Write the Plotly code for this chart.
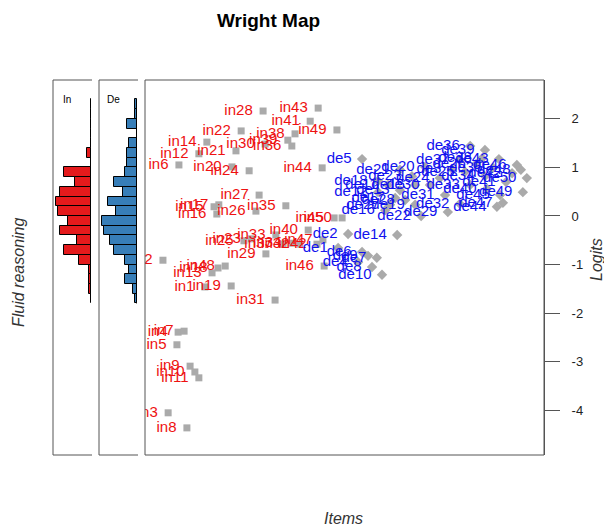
import plotly.graph_objects as go

# ---------------- data ----------------
# "In" items: name, horizontal slot (0-100), difficulty (logits)
in_names = ["in28", "in43", "in41", "in49", "in38", "in39", "in22", "in14", "in12", "in21",
            "in6", "in20", "in24", "in30", "in36", "in44", "in27", "in17", "in15", "in16",
            "in26", "in35", "in45", "in50", "in25", "in23", "in33", "in40", "in37", "in34",
            "in32", "in42", "in47", "in29", "in2", "in48", "in18", "in13", "in1", "in19",
            "in31", "in46", "in4", "in7", "in5", "in9", "in10", "in11", "in3", "in8"]
in_slot = [29.6, 43.4, 41.4, 48.1, 37.6, 35.8, 24.1, 15.5, 13.5, 22.8,
           8.5, 21.8, 26.1, 30.1, 36.8, 44.4, 28.6, 18.5, 17.3, 18.0,
           27.8, 35.3, 47.4, 49.4, 24.8, 26.6, 32.8, 40.9, 34.6, 36.8,
           38.8, 43.1, 44.6, 30.3, 4.5, 20.1, 18.3, 16.8, 15.0, 21.6,
           32.6, 44.9, 8.3, 9.8, 8.0, 11.3, 12.5, 13.5, 5.8, 10.5]
in_logit = [2.16, 2.22, 1.95, 1.77, 1.69, 1.56, 1.75, 1.52, 1.28, 1.34,
            1.05, 1.01, 0.93, 1.48, 1.44, 0.99, 0.43, 0.23, 0.19, 0.04,
            0.10, 0.21, -0.04, -0.04, -0.51, -0.47, -0.39, -0.29, -0.58, -0.56,
            -0.58, -0.58, -0.49, -0.78, -0.91, -1.03, -1.07, -1.17, -1.46, -1.44,
            -1.73, -1.03, -2.39, -2.37, -2.65, -3.09, -3.21, -3.33, -4.05, -4.36]

# "De" items
de_names = ["de5", "de36", "de39", "de43", "de46", "de48", "de50", "de49", "de47", "de44",
            "de40", "de22", "de29", "de32", "de12", "de18", "de14", "de2", "de1", "de6",
            "de9", "de7", "de4", "de8", "de10", "de3", "de11", "de13", "de15", "de16",
            "de17", "de19", "de20", "de21", "de23", "de24", "de25", "de26", "de27", "de28",
            "de30", "de31", "de33", "de34", "de35", "de37", "de38", "de41", "de42", "de45"]
de_slot = [54.4, 81.5, 85.2, 88.7, 93.2, 94.2, 95.7, 94.7, 89.7, 88.2,
           85.7, 69.2, 75.9, 78.9, 58.4, 58.4, 63.2, 50.9, 48.4, 54.4,
           55.9, 58.1, 53.4, 56.9, 59.4, 76.9, 60.9, 63.9, 67.7, 60.2,
           62.7, 67.7, 70.2, 63.9, 66.9, 73.9, 80.2, 83.0, 61.4, 65.2,
           71.4, 75.2, 81.5, 85.2, 87.2, 78.9, 84.5, 90.5, 92.0, 89.0]
de_logit = [1.17, 1.44, 1.36, 1.17, 1.05, 0.95, 0.78, 0.49, 0.27, 0.19,
            0.56, 0.00, 0.08, 0.25, 0.49, 0.72, -0.39, -0.37, -0.66, -0.74,
            -0.82, -0.86, -0.95, -1.05, -1.21, 0.97, 0.64, 0.53, 0.64, 0.12,
            0.37, 0.23, 1.01, 0.95, 0.82, 0.78, 0.91, 1.07, 0.23, 0.33,
            0.64, 0.43, 0.64, 0.82, 0.99, 1.15, 1.19, 0.70, 0.88, 0.43]

# person distributions: bins of 0.2 logits, given by their upper edge
bin_top = [2.4, 2.2, 2.0, 1.8, 1.6, 1.4, 1.2, 1.0, 0.8, 0.6, 0.4,
           0.2, 0.0, -0.2, -0.4, -0.6, -0.8, -1.0, -1.2, -1.4, -1.6]
in_counts = [0, 0, 0, 0, 0, 2, 0, 13, 8, 15, 17,
             16, 11, 15, 7, 13, 6, 1, 1, 1, 0]
de_counts = [1, 1, 5, 0, 4, 5, 5, 6, 11, 7, 14,
             10, 17, 16, 13, 11, 6, 4, 6, 2, 1]
bin_width = 0.2

logit_ticks = [2, 1, 0, -1, -2, -3, -4]

# ---------------- layout geometry (pixels) ----------------
W, H = 604, 527
TOP, BOT = 80, 455
IN_L, IN_R = 53, 91
DE_L, DE_R = 99, 137
MAIN_L, MAIN_R = 145, 544
Y_RANGE = [-4.918, 2.798]


def px_x(p):
    return p / W


def px_y(p):
    return 1 - p / H


GRAY = "#aaaaaa"
FRAME = "#555555"
FONT = "Liberation Sans, Arial, sans-serif"

fig = go.Figure()

bin_mid = [t - bin_width / 2 for t in bin_top]

# person histograms
fig.add_trace(go.Bar(
    x=in_counts, y=bin_mid, orientation="h", width=bin_width,
    marker=dict(color="#E41A1C", line=dict(color="black", width=1)),
    xaxis="x", yaxis="y", hoverinfo="skip"))
fig.add_trace(go.Bar(
    x=de_counts, y=bin_mid, orientation="h", width=bin_width,
    marker=dict(color="#377EB8", line=dict(color="black", width=1)),
    xaxis="x2", yaxis="y", hoverinfo="skip"))

# item markers
fig.add_trace(go.Scatter(
    x=in_slot, y=in_logit, mode="markers", xaxis="x3", yaxis="y",
    marker=dict(symbol="square", size=7, color=GRAY), hoverinfo="skip"))
fig.add_trace(go.Scatter(
    x=de_slot, y=de_logit, mode="markers", xaxis="x3", yaxis="y",
    marker=dict(symbol="diamond", size=8, color=GRAY), hoverinfo="skip"))

# item labels, set to the left of each marker
fig.add_trace(go.Scatter(
    x=in_slot, y=in_logit, mode="markers+text", text=in_names,
    textposition="middle left", xaxis="x3", yaxis="y",
    textfont=dict(color="#ee1111", size=15, family=FONT),
    marker=dict(size=15, color="rgba(0,0,0,0)"), hoverinfo="skip"))
fig.add_trace(go.Scatter(
    x=de_slot, y=de_logit, mode="markers+text", text=de_names,
    textposition="middle left", xaxis="x3", yaxis="y",
    textfont=dict(color="#1111ee", size=15, family=FONT),
    marker=dict(size=15, color="rgba(0,0,0,0)"), hoverinfo="skip"))

shapes = []
# main panel box
shapes.append(dict(type="rect", xref="paper", yref="paper",
                   x0=px_x(MAIN_L), x1=px_x(MAIN_R), y0=px_y(BOT), y1=px_y(TOP),
                   line=dict(color=FRAME, width=1)))
# person panels, open on the right
for left, right in [(IN_L, IN_R + 1), (DE_L, DE_R + 1)]:
    shapes.append(dict(type="line", xref="paper", yref="paper",
                       x0=px_x(left), x1=px_x(left), y0=px_y(BOT), y1=px_y(TOP),
                       line=dict(color=FRAME, width=1)))
    for yy in (TOP, BOT):
        shapes.append(dict(type="line", xref="paper", yref="paper",
                           x0=px_x(left), x1=px_x(right), y0=px_y(yy), y1=px_y(yy),
                           line=dict(color=FRAME, width=1)))


def baseline(counts, xref):
    filled = [t for t, c in zip(bin_top, counts) if c > 0]
    hi = max(filled)
    lo = min(filled) - bin_width
    return dict(type="line", xref=xref, yref="y", x0=0, x1=0, y0=lo, y1=hi,
                line=dict(color="black", width=1.5))


shapes.append(baseline(in_counts, "x"))
shapes.append(baseline(de_counts, "x2"))


def label(text, x, y, size, color="#333333", angle=0):
    return dict(text=text, x=px_x(x), y=px_y(y), xref="paper", yref="paper",
                xanchor="center", yanchor="middle", showarrow=False, textangle=angle,
                font=dict(size=size, color=color, family=FONT))


annotations = [
    label("<b>Wright Map</b>", 268, 20, 19, "black"),
    label("In", 67, 100, 10, "black"),
    label("De", 113, 100, 10, "black"),
    label("<i>Fluid reasoning</i>", 18, 272, 16, angle=-90),
    label("<i>Logits</i>", 596, 260, 16, angle=-90),
    label("<i>Items</i>", 343, 518, 16),
]

hist_axis = dict(range=[18.5, 0], visible=False, fixedrange=True)
fig.update_layout(
    width=W, height=H, margin=dict(l=0, r=0, t=0, b=0),
    paper_bgcolor="white", plot_bgcolor="white", showlegend=False,
    bargap=0,
    xaxis=dict(domain=[px_x(IN_L), px_x(IN_R)], anchor="y", **hist_axis),
    xaxis2=dict(domain=[px_x(DE_L), px_x(DE_R)], anchor="y", **hist_axis),
    xaxis3=dict(domain=[px_x(MAIN_L), px_x(MAIN_R)], anchor="y", range=[0, 100],
                visible=False),
    yaxis=dict(domain=[px_y(BOT), px_y(TOP)], range=Y_RANGE, anchor="x3", side="right",
               tickvals=logit_ticks, ticktext=[str(t) for t in logit_ticks],
               ticks="outside", ticklen=15, tickwidth=1, tickcolor=FRAME,
               showline=True, linecolor=FRAME, linewidth=1,
               showgrid=False, zeroline=False, ticklabelstandoff=9,
               tickfont=dict(size=13, color="#222222", family=FONT)),
    shapes=shapes, annotations=annotations,
)

fig.write_html("out.html")
